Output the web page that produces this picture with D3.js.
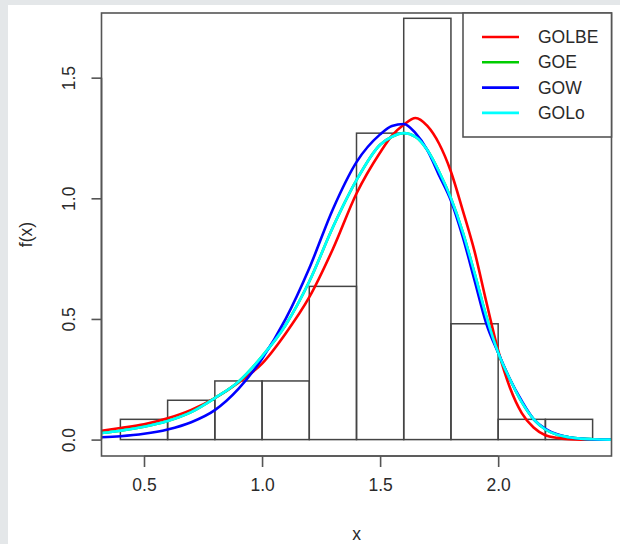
<!DOCTYPE html>
<html>
<head>
<meta charset="utf-8">
<script src="https://cdn.jsdelivr.net/npm/d3@7"></script>
<style>
  body { margin: 0; background: #fff; }
  svg { display: block; font-family: "Liberation Sans", Arial, sans-serif; }
</style>
</head>
<body>
<svg id="chart" width="620" height="544"></svg>
<script>
// histogram (density scale)
const breaks = [0.4, 0.6, 0.8, 1.0, 1.2, 1.4, 1.6, 1.8, 2.0, 2.2, 2.4];
const density = [0.084, 0.163, 0.243, 0.243, 0.635, 1.27, 1.746, 0.48, 0.084, 0.084];

const xTicks = [0.5, 1.0, 1.5, 2.0];
const yTicks = [0.0, 0.5, 1.0, 1.5];

// fitted densities
const gridX = [0.32, 0.4, 0.5, 0.6, 0.7, 0.8, 0.9, 1.0, 1.1, 1.2, 1.3, 1.4, 1.5, 1.55, 1.6, 1.65,
  1.7, 1.75, 1.8, 1.85, 1.9, 1.95, 2.0, 2.05, 2.1, 2.15, 2.2, 2.25, 2.3, 2.35, 2.4, 2.48];
const golbe = [0.037, 0.048, 0.063, 0.088, 0.123, 0.172, 0.236, 0.315, 0.44, 0.59, 0.79, 1.02, 1.19, 1.26, 1.305, 1.333,
  1.30, 1.226, 1.11, 0.95, 0.78, 0.57, 0.37, 0.215, 0.11, 0.05, 0.018, 0.007, 0.002, 0.0, 0.0, 0.0];
const goe = [0.027, 0.037, 0.053, 0.077, 0.114, 0.172, 0.24, 0.345, 0.475, 0.655, 0.88, 1.075, 1.222, 1.255, 1.27, 1.255,
  1.2, 1.11, 1.0, 0.86, 0.69, 0.51, 0.36, 0.25, 0.155, 0.085, 0.042, 0.02, 0.01, 0.004, 0.0015, 0.0];
const gow = [0.01, 0.014, 0.024, 0.042, 0.072, 0.122, 0.21, 0.335, 0.5, 0.71, 0.955, 1.15, 1.265, 1.30, 1.308, 1.27,
  1.20, 1.095, 0.99, 0.84, 0.66, 0.48, 0.36, 0.25, 0.16, 0.085, 0.045, 0.022, 0.01, 0.004, 0.001, 0.0];
const golo = [0.027, 0.037, 0.053, 0.077, 0.114, 0.172, 0.24, 0.345, 0.475, 0.655, 0.88, 1.075, 1.222, 1.255, 1.27, 1.255,
  1.2, 1.11, 1.0, 0.86, 0.69, 0.51, 0.36, 0.25, 0.155, 0.085, 0.042, 0.02, 0.01, 0.004, 0.0015, 0.0];

const seriesNames = ["GOLBE", "GOE", "GOW", "GOLo"];
const seriesColors = ["#ff0000", "#00cd00", "#0000ff", "#00ffff"];
const seriesValues = [golbe, goe, gow, golo];

const svg = d3.select("#chart");
const box = { left: 101.5, right: 611.5, top: 13, bottom: 456 };
const axisCol = "#555";
const textCol = "#2a2a2a";

// grey frame of the screenshot
svg.append("rect").attr("width", 620).attr("height", 544).attr("fill", "#e4e7e9");
svg.append("rect").attr("x", 8).attr("y", 5).attr("width", 612).attr("height", 539).attr("fill", "#fff");

const x = d3.scaleLinear().domain([0.32, 2.48]).range([box.left, box.right]);
const y = d3.scaleLinear().domain([-0.068, 1.768]).range([box.bottom, box.top]);

// histogram bars
svg.append("g").selectAll("rect")
  .data(density)
  .join("rect")
  .attr("x", (d, i) => x(breaks[i]))
  .attr("width", (d, i) => x(breaks[i + 1]) - x(breaks[i]))
  .attr("y", d => y(d))
  .attr("height", d => y(0) - y(d))
  .attr("fill", "none")
  .attr("stroke", "#444")
  .attr("stroke-width", 1.5);

// curves
const line = d3.line()
  .x((d, i) => x(gridX[i]))
  .y(d => y(d))
  .curve(d3.curveMonotoneX);

svg.append("g").selectAll("path")
  .data(seriesValues)
  .join("path")
  .attr("d", d => line(d))
  .attr("fill", "none")
  .attr("stroke", (d, i) => seriesColors[i])
  .attr("stroke-width", 2.6);

// axes
const xAxis = d3.axisBottom(x).tickValues(xTicks).tickFormat(d3.format(".1f")).tickSize(11).tickPadding(12);
const gx = svg.append("g").attr("transform", `translate(0,${box.bottom})`).call(xAxis);
gx.select(".domain").attr("d", `M${x(xTicks[0])},0H${x(xTicks[xTicks.length - 1])}`);

const yAxis = d3.axisLeft(y).tickValues(yTicks).tickFormat(d3.format(".1f")).tickSize(10).tickPadding(0);
const gy = svg.append("g").attr("transform", `translate(${box.left},0)`).call(yAxis);
gy.select(".domain").attr("d", `M0,${y(yTicks[0])}V${y(yTicks[yTicks.length - 1])}`);

[gx, gy].forEach(g => {
  g.selectAll("path, line").attr("stroke", axisCol).attr("stroke-width", 1.6);
  g.selectAll("text").attr("fill", textCol).attr("font-size", 17.5).attr("font-family", "Liberation Sans, Arial, sans-serif");
});
gy.selectAll(".tick text")
  .attr("x", null).attr("dy", null)
  .attr("text-anchor", "middle")
  .attr("transform", "translate(-33,0) rotate(-90)")
  .attr("dy", "0.35em");

// plot box
svg.append("rect")
  .attr("x", box.left).attr("y", box.top)
  .attr("width", box.right - box.left).attr("height", box.bottom - box.top)
  .attr("fill", "none").attr("stroke", axisCol).attr("stroke-width", 1.6);

// axis titles
svg.append("text").attr("x", (box.left + box.right) / 2).attr("y", 540)
  .attr("text-anchor", "middle").attr("font-size", 17.5).attr("fill", textCol).text("x");
svg.append("text").attr("transform", `translate(32,${(box.top + box.bottom) / 2}) rotate(-90)`)
  .attr("text-anchor", "middle").attr("font-size", 17.5).attr("fill", textCol).text("f(x)");

// legend
const legend = svg.append("g");
legend.append("rect").attr("x", 463).attr("y", box.top).attr("width", box.right - 463).attr("height", 124)
  .attr("fill", "#fff").attr("stroke", axisCol).attr("stroke-width", 1.6);
const items = legend.selectAll("g.item").data(seriesNames).join("g").attr("class", "item")
  .attr("transform", (d, i) => `translate(0,${37 + i * 25.3})`);
items.append("line").attr("x1", 482).attr("x2", 519)
  .attr("stroke", (d, i) => seriesColors[i]).attr("stroke-width", 2.6);
items.append("text").attr("x", 538).attr("dy", "0.35em").attr("font-size", 17.5).attr("fill", textCol).text(d => d);
</script>
</body>
</html>
